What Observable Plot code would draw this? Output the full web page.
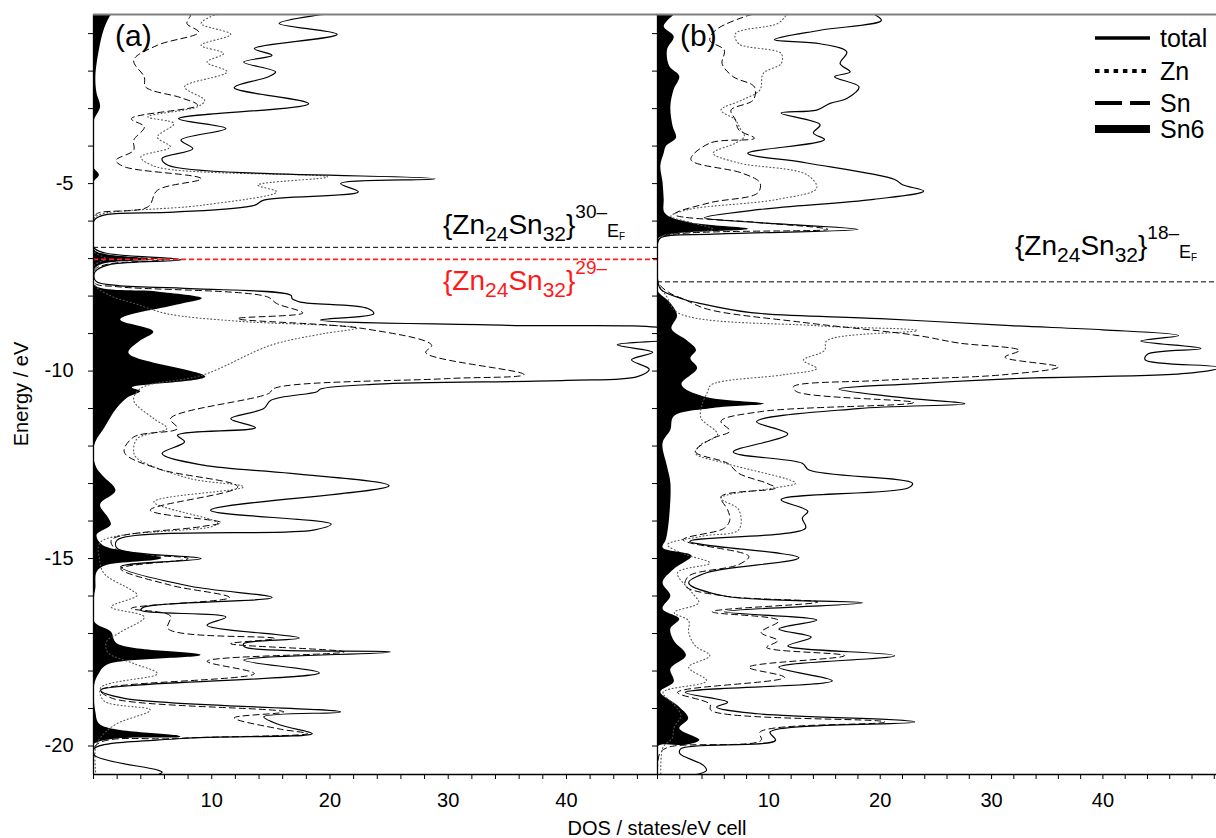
<!DOCTYPE html>
<html><head><meta charset="utf-8">
<script src="https://cdn.jsdelivr.net/npm/d3@7"></script>
<script src="https://cdn.jsdelivr.net/npm/@observablehq/plot@0.6"></script>
<style>
body{margin:0;background:#fff;}
#wrap{position:relative;width:1216px;height:838px;overflow:hidden;background:#fff;}
#wrap svg{position:absolute;top:0;}
</style></head><body><div id="wrap"></div>
<script>
// ---------- data: [energy (eV), DOS] ----------
const aTotal = [[-0.49,19.5],[-0.51,18.9],[-0.73,15.7],[-1.02,20.6],[-1.4,13.6],[-1.58,15.1],[-1.76,12.7],[-2.02,15.4],[-2.15,14.8],[-2.44,11.9],[-2.87,18.2],[-3.27,7.2],[-3.53,11.2],[-3.84,7.4],[-4.07,8.4],[-4.33,5.8],[-4.51,6.3],[-4.87,28.9],[-5.0,20.9],[-5.22,22.4],[-5.44,14.4],[-5.58,13.6],[-5.76,6.8],[-5.82,1.2],[-5.93,0.2],[-6.02,0],[-6.7,0],[-6.85,1.0],[-7.03,7.4],[-7.15,1.5],[-7.3,0.3],[-7.4,0.05],[-7.6,0.2],[-7.71,1.7],[-7.8,8.2],[-7.98,16.7],[-8.07,16.8],[-8.16,17.5],[-8.33,23.2],[-8.47,23.7],[-8.64,19.2],[-8.78,35],[-8.9,49],[-9.1,50],[-9.3,44.3],[-9.5,47.3],[-9.7,45.5],[-9.95,47],[-10.15,46],[-10.25,40],[-10.35,24],[-10.48,19.2],[-10.55,18.9],[-10.78,15.0],[-11.0,14.4],[-11.27,11.6],[-11.51,13.7],[-11.71,7.1],[-11.89,7.7],[-12.2,5.8],[-12.51,9.3],[-12.73,16.7],[-13.06,25.0],[-13.71,9.9],[-14.08,20.1],[-14.24,18.6],[-14.51,2.0],[-14.73,2.0],[-15.0,9.1],[-15.22,2.3],[-15.74,8.2],[-16.04,15.1],[-16.29,4.3],[-16.38,4.0],[-16.56,11.2],[-16.78,9.6],[-17.12,17.4],[-17.27,12.7],[-17.36,12.8],[-17.49,25.1],[-17.71,12.7],[-18.05,19.1],[-18.51,0.6],[-18.73,2.6],[-19.09,20.9],[-19.22,14.4],[-19.44,15.8],[-19.67,18.5],[-19.8,7.5],[-20.07,0.05],[-20.25,0.1],[-20.64,5.4],[-20.7,5.8],[-20.76,5.5]];
const aZn = [[-0.49,10.5],[-0.51,10.2],[-0.73,9.1],[-1.02,11.6],[-1.31,9.1],[-1.53,11.0],[-1.76,9.6],[-2.02,11.3],[-2.42,7.7],[-2.78,9.4],[-2.95,8.8],[-3.22,4.6],[-3.4,6.8],[-3.76,5.4],[-4.02,6.5],[-4.29,4.0],[-4.56,5.4],[-4.82,19.8],[-5.04,13.9],[-5.22,15.5],[-5.58,9.1],[-5.82,0.6],[-5.95,0],[-6.8,0],[-7.0,1.0],[-7.2,0],[-7.7,0.1],[-8.0,1.5],[-8.2,3.5],[-8.47,6.2],[-8.67,12.2],[-8.85,22.3],[-9.0,19.5],[-9.31,15.0],[-10.1,9.3],[-10.46,4.0],[-10.78,3.4],[-11.27,5.1],[-11.53,6.2],[-11.8,3.7],[-12.16,3.4],[-12.33,3.7],[-12.87,8.2],[-13.09,12.7],[-13.49,5.1],[-14.05,10.5],[-14.15,10.0],[-14.56,0.6],[-15.0,0.5],[-15.4,0.9],[-15.84,3.2],[-15.98,3.7],[-16.29,1.5],[-16.56,4.3],[-16.96,2.3],[-17.22,1.1],[-17.5,1.2],[-17.8,3.4],[-18.07,5.4],[-18.45,0.6],[-18.8,0.9],[-19.04,4.8],[-19.4,2.0],[-19.7,0.8],[-20.0,0.2],[-20.76,0.2]];
const aSn = [[-0.49,8.0],[-0.51,8.2],[-0.73,7.9],[-0.96,8.9],[-1.31,5.4],[-1.71,3.4],[-2.16,4.3],[-2.42,4.4],[-2.71,7.4],[-2.91,8.8],[-3.27,3.2],[-3.49,4.3],[-3.84,3.4],[-4.11,3.4],[-4.38,1.9],[-4.55,2.6],[-4.87,9.1],[-5.18,5.4],[-5.62,4.6],[-5.8,0.3],[-5.95,0],[-6.75,0],[-6.9,1.0],[-7.03,6.0],[-7.15,1.2],[-7.3,0.1],[-7.65,0.1],[-7.75,2],[-8.02,14.7],[-8.2,15.5],[-8.45,17.7],[-8.6,12.2],[-8.87,22.9],[-9.31,28.6],[-9.51,28.1],[-10.09,36.4],[-10.2,30],[-10.46,15.3],[-10.6,14.8],[-11.27,6.5],[-11.53,7.1],[-11.76,3.4],[-12.16,2.6],[-12.6,5.4],[-13.09,12.2],[-13.71,4.8],[-14.04,10.8],[-14.15,9.1],[-14.51,1.5],[-14.78,2.0],[-15.0,8.0],[-15.27,2.3],[-15.71,6.5],[-16.04,11.5],[-16.33,3.2],[-16.53,6.5],[-16.87,6.3],[-17.13,15.3],[-17.27,11.6],[-17.49,21.2],[-17.74,9.6],[-18.07,13.6],[-18.51,0.6],[-18.73,1.6],[-19.09,16.1],[-19.25,11.9],[-19.55,15.8],[-19.67,18.1],[-19.8,7.0],[-19.98,0.2],[-20.76,0]];
const aSn6 = [[-0.49,1.6],[-0.51,1.5],[-0.91,0.9],[-1.44,0.5],[-2.16,0.2],[-2.6,0.3],[-2.96,0.6],[-3.3,0.1],[-3.5,0],[-4.55,0],[-4.78,0.5],[-5.0,0],[-6.75,0],[-6.88,0.8],[-7.03,4.8],[-7.15,0.8],[-7.3,0.1],[-7.71,0.1],[-7.89,5.4],[-8.07,9.2],[-8.24,7.1],[-8.64,2.3],[-8.96,5.1],[-9.22,3.9],[-9.53,3.0],[-10.16,9.5],[-10.45,3.3],[-10.55,4.0],[-10.7,3.0],[-11.0,2.0],[-11.5,1.0],[-11.9,0.2],[-12.2,0],[-12.6,0.3],[-12.8,0.8],[-13.2,1.9],[-13.57,0.6],[-13.93,1.3],[-14.11,1.5],[-14.38,0.3],[-14.65,0.8],[-15.0,5.8],[-15.2,1.0],[-15.37,0.3],[-15.8,0.2],[-16.0,0.1],[-16.69,0.1],[-16.96,1.5],[-17.27,2.0],[-17.58,9.1],[-17.84,1.2],[-18.07,0.5],[-18.38,0.1],[-19.1,0.2],[-19.44,0.6],[-19.76,7.4],[-19.98,0],[-20.76,0]];

const bTotal = [[-0.49,19.5],[-0.65,20.1],[-0.91,14.6],[-1.16,10.5],[-1.27,14.6],[-1.49,17.0],[-1.8,16.4],[-2.02,17.3],[-2.15,15.9],[-2.42,18.1],[-2.73,17.0],[-2.86,15.5],[-3.04,14.3],[-3.12,11.1],[-3.43,14.6],[-3.65,14.0],[-3.83,15.0],[-4.19,8.1],[-4.45,13.4],[-4.89,21.3],[-5.03,22.0],[-5.2,23.9],[-5.42,19.4],[-5.69,9.2],[-5.91,4.2],[-6.04,9],[-6.22,18.0],[-6.35,5],[-6.44,0.3],[-6.6,0],[-7.55,0],[-7.82,0.3],[-8.09,2.4],[-8.18,3.6],[-8.44,8.4],[-8.6,20],[-8.79,31.7],[-8.9,40],[-9.05,46.8],[-9.2,43.4],[-9.4,48.8],[-9.55,44],[-9.7,43.8],[-9.9,50.5],[-10.05,48],[-10.2,32],[-10.34,22.9],[-10.48,16.3],[-10.73,22.6],[-10.87,27.6],[-11.0,18],[-11.35,8.9],[-11.68,11.7],[-12.16,6.8],[-12.46,13.0],[-12.64,13.6],[-12.99,22.9],[-13.12,22.5],[-13.43,11.1],[-13.74,13.5],[-13.92,13.0],[-14.19,13.3],[-14.54,2.9],[-14.98,12.7],[-15.38,4.4],[-15.65,2.8],[-16.0,6.0],[-16.18,18.4],[-16.42,6.0],[-16.64,14.3],[-16.88,10.9],[-17.1,13.8],[-17.33,11.7],[-17.59,21.3],[-17.9,10.9],[-18.26,15.7],[-18.57,2.5],[-18.83,6.3],[-18.96,5.3],[-19.14,9],[-19.36,23.1],[-19.63,10.1],[-19.85,10.6],[-20.07,2.1],[-20.2,2.0],[-20.51,4.1],[-20.65,4.4],[-20.76,3.5]];
const bZn = [[-0.49,11.8],[-0.51,11.6],[-0.73,10.8],[-1.0,7.0],[-1.27,7.3],[-1.53,11.1],[-1.8,11.1],[-2.06,9.5],[-2.5,9.2],[-2.77,7.6],[-3.04,5.7],[-3.3,7.0],[-3.52,7.4],[-3.74,7.8],[-3.92,7.0],[-4.19,5.0],[-4.45,7.3],[-4.76,13.4],[-5.12,14.3],[-5.42,10.8],[-5.69,2.8],[-5.87,1.2],[-6.04,3],[-6.22,5],[-6.4,0.4],[-6.55,0],[-7.6,0],[-8.0,0.8],[-8.44,1.8],[-8.79,14.3],[-8.92,23.3],[-9.19,15.2],[-9.45,15.0],[-9.71,13.1],[-9.93,14.3],[-10.1,11.3],[-10.37,4.8],[-10.55,4.5],[-10.9,4.0],[-11.25,3.9],[-11.69,5.4],[-11.96,3.9],[-12.19,3.4],[-12.46,6.1],[-12.99,12.4],[-13.12,10.4],[-13.39,5.7],[-13.7,7.3],[-14.23,7.3],[-14.4,4.1],[-14.63,0.9],[-14.89,2.5],[-15.12,4.7],[-15.38,1.8],[-15.91,3.1],[-16.18,3.7],[-16.44,1.5],[-16.66,2.8],[-16.97,2.8],[-17.33,3.4],[-17.59,4.7],[-17.9,2.8],[-18.26,4.4],[-18.57,0.5],[-18.9,1.5],[-19.19,2.1],[-19.5,1.5],[-19.8,1.3],[-20.03,0.5],[-20.76,0.3]];
const bSn = [[-0.49,8.5],[-0.51,8.2],[-0.91,5.2],[-1.18,4.7],[-1.44,6.0],[-1.8,5.8],[-2.15,6.8],[-2.42,8.7],[-2.77,8.6],[-3.04,6.6],[-3.3,7.0],[-3.57,7.3],[-3.79,8.7],[-3.92,4.7],[-4.36,3.0],[-4.72,7.6],[-4.98,9.2],[-5.25,9.0],[-5.51,4.7],[-5.82,1.5],[-6.04,9.2],[-6.22,15.3],[-6.4,0.6],[-6.55,0],[-7.6,0],[-7.9,1.0],[-8.1,2.5],[-8.35,4.5],[-8.7,13],[-9.05,23.3],[-9.25,27],[-9.45,32.5],[-9.63,31.2],[-9.89,36.0],[-10.1,31],[-10.25,20],[-10.42,12.2],[-10.55,12.5],[-10.84,23.0],[-11.08,9.3],[-11.34,5.7],[-11.6,6.5],[-11.8,4.9],[-12.15,3.4],[-12.46,6.3],[-12.73,7.3],[-12.99,9.8],[-13.12,10.6],[-13.35,5.7],[-13.7,6.3],[-13.96,6.5],[-14.19,6.0],[-14.5,2.3],[-14.94,8.2],[-15.16,7.3],[-15.47,2.8],[-15.73,2.5],[-16.0,6.0],[-16.16,14.4],[-16.42,4.9],[-16.66,10.9],[-16.97,9.3],[-17.19,10.8],[-17.37,9.8],[-17.59,16.8],[-17.9,8.2],[-18.17,11.4],[-18.57,1.8],[-18.88,4.7],[-19.05,4.8],[-19.36,20.4],[-19.63,9.2],[-19.85,9.3],[-20.03,1.0],[-20.2,0.2],[-20.76,0]];
const bSn6 = [[-0.49,1.6],[-0.51,1.5],[-0.82,0.6],[-1.09,1.5],[-1.44,0.9],[-1.88,1.1],[-2.15,2.0],[-2.5,1.5],[-2.95,1.2],[-3.48,1.4],[-3.79,1.7],[-4.01,0.8],[-4.2,0.6],[-4.54,0.3],[-4.98,0.5],[-5.42,0.6],[-5.8,0.7],[-6.04,2.8],[-6.22,8.2],[-6.35,1.5],[-6.47,0.1],[-6.6,0],[-7.75,0],[-7.9,0.1],[-8.2,1.2],[-8.53,1.8],[-8.88,1.3],[-9.2,2.7],[-9.45,3.5],[-9.67,3.0],[-9.93,3.6],[-10.37,2.2],[-10.69,4.2],[-10.88,9.6],[-11.0,5],[-11.22,1.5],[-11.58,1.2],[-11.93,0.5],[-12.55,0.9],[-12.99,1.2],[-13.88,1.1],[-14.5,0.8],[-14.72,0.5],[-14.94,3.1],[-15.29,1.5],[-15.65,0.5],[-16.0,1.2],[-16.35,0.5],[-16.62,2.0],[-16.88,1.2],[-17.2,1.5],[-17.59,2.6],[-17.95,1.2],[-18.3,1.5],[-18.57,0.3],[-18.92,1.8],[-19.27,2.8],[-19.54,2.0],[-19.85,3.8],[-19.98,2.5],[-20.03,0],[-20.76,0]];

const energyTicks = d3.range(-20, 0, 1);
const energyLabels = [-20, -15, -10, -5];
const dosLabels = [10, 20, 30, 40];
const legendLabels = ["total", "Zn", "Sn", "Sn6"];
const panelLabels = ["(a)", "(b)"];
const fermiA30 = -6.7, fermiA29 = -7.02, fermiB18 = -7.62;
const yDomain = [-20.76, -0.49];

const FONT = "'Liberation Sans', Arial, Helvetica, sans-serif";
const H = 838;
const rows = arr => arr.map(([e, v]) => ({e, v}));

function makePanel(p) {
  return Plot.plot({
    width: p.width, height: H,
    marginLeft: p.ml, marginRight: 0, marginTop: 14, marginBottom: H - 774,
    x: {domain: [0, p.xmax]},
    y: {domain: yDomain},
    style: {background: "transparent", fontFamily: FONT, fontSize: "20px", color: "black"},
    marks: [
      Plot.areaX(rows(p.sn6), {y: "e", x: "v", fill: "black", curve: "catmull-rom", clip: true}),
      Plot.lineX(rows(p.zn), {y: "e", x: "v", stroke: "#555", strokeWidth: 1.1, strokeDasharray: "1,2.6", curve: "catmull-rom", clip: true}),
      Plot.lineX(rows(p.sn), {y: "e", x: "v", stroke: "black", strokeWidth: 1, strokeDasharray: "6,4", curve: "catmull-rom", clip: true}),
      Plot.lineX(rows(p.total), {y: "e", x: "v", stroke: "black", strokeWidth: 1.2, curve: "catmull-rom", clip: true}),
      ...p.rules,
      Plot.ruleX([0], {stroke: "black", strokeWidth: 1.3}),
      Plot.ruleY([yDomain[0]], {stroke: "black", strokeWidth: 1.3}),
      Plot.ruleY([yDomain[1]], {stroke: "#808080", strokeWidth: 2}),
      Plot.axisY({ticks: energyTicks, tickSize: 5, tickPadding: 15, label: null, fontSize: 20,
        tickFormat: d => (p.ylabels && energyLabels.includes(d)) ? String(d) : ""}),
      Plot.axisX({ticks: d3.range(0, p.xmax, 2), tickSize: 5, tickPadding: 13, label: null, fontSize: 20,
        tickFormat: d => dosLabels.includes(d) ? String(d) : ""})
    ]
  });
}

const wrap = document.getElementById("wrap");
const plotA = makePanel({width: 657, ml: 93, xmax: 47.7, ylabels: true,
  total: aTotal, zn: aZn, sn: aSn, sn6: aSn6,
  rules: [
    Plot.ruleY([fermiA30], {stroke: "black", strokeWidth: 1, strokeDasharray: "5,3"}),
    Plot.ruleY([fermiA29], {stroke: "#ff2020", strokeWidth: 1.6, strokeDasharray: "5,3"})
  ]});
plotA.style.left = "0px";
wrap.appendChild(plotA);

const plotB = makePanel({width: 576, ml: 17, xmax: 50.2, ylabels: false,
  total: bTotal, zn: bZn, sn: bSn, sn6: bSn6,
  rules: [Plot.ruleY([fermiB18], {stroke: "black", strokeWidth: 1, strokeDasharray: "5,3"})]});
plotB.style.left = "640px";
wrap.appendChild(plotB);

// ---------- overlay text ----------
const ya = plotA.scale("y");
const ov = d3.select(wrap).append("svg")
  .attr("width", 1216).attr("height", H).style("left", "0px")
  .style("font-family", FONT).style("pointer-events", "none");

ov.append("text").attr("x", 115).attr("y", 46).attr("font-size", 30).text(panelLabels[0]);
ov.append("text").attr("x", 680).attr("y", 46).attr("font-size", 30).text(panelLabels[1]);

ov.append("text").attr("transform", "translate(28,394) rotate(-90)").attr("text-anchor", "middle")
  .attr("font-size", 20).text("Energy / eV");
ov.append("text").attr("x", 657).attr("y", 835).attr("text-anchor", "middle")
  .attr("font-size", 20).text("DOS / states/eV cell");

function formula(x, y, charge, color, ef) {
  const t = ov.append("text").attr("x", x).attr("y", y).attr("fill", color).attr("font-size", 28);
  t.append("tspan").text("{Zn");
  t.append("tspan").attr("font-size", 21).attr("dy", 7).text("24");
  t.append("tspan").attr("dy", -7).text("Sn");
  t.append("tspan").attr("font-size", 21).attr("dy", 7).text("32");
  t.append("tspan").attr("dy", -7).text("}");
  t.append("tspan").attr("font-size", 19).attr("dy", -16).text(charge);
  if (ef) {
    t.append("tspan").attr("font-size", 18).attr("dy", 19).text("E");
    t.append("tspan").attr("font-size", 10).attr("dy", 3).text("F");
  }
}
formula(443, ya.apply(fermiA30) - 13, "30\u2013", "black", true);
formula(443, ya.apply(fermiA29) + 31, "29\u2013", "#ff1a1a", false);
formula(1015, ya.apply(fermiB18) - 26, "18\u2013", "black", true);

// legend
const lg = ov.append("g");
const lx0 = 1095, lx1 = 1150, lRows = [38, 71, 103, 129];
lg.append("line").attr("x1", lx0).attr("x2", lx1).attr("y1", lRows[0]).attr("y2", lRows[0]).attr("stroke", "black").attr("stroke-width", 3.3);
lg.append("line").attr("x1", lx0).attr("x2", lx1).attr("y1", lRows[1]).attr("y2", lRows[1]).attr("stroke", "black").attr("stroke-width", 4).attr("stroke-dasharray", "4.5,4.8");
lg.append("line").attr("x1", lx0).attr("x2", lx1).attr("y1", lRows[2]).attr("y2", lRows[2]).attr("stroke", "black").attr("stroke-width", 4).attr("stroke-dasharray", "27,8");
lg.append("rect").attr("x", lx0).attr("width", lx1 - lx0).attr("y", lRows[3] - 4).attr("height", 8).attr("fill", "black");
legendLabels.forEach((s, i) => lg.append("text").attr("x", 1160).attr("y", lRows[i] + 8.5).attr("font-size", 25).text(s));
</script></body></html>
